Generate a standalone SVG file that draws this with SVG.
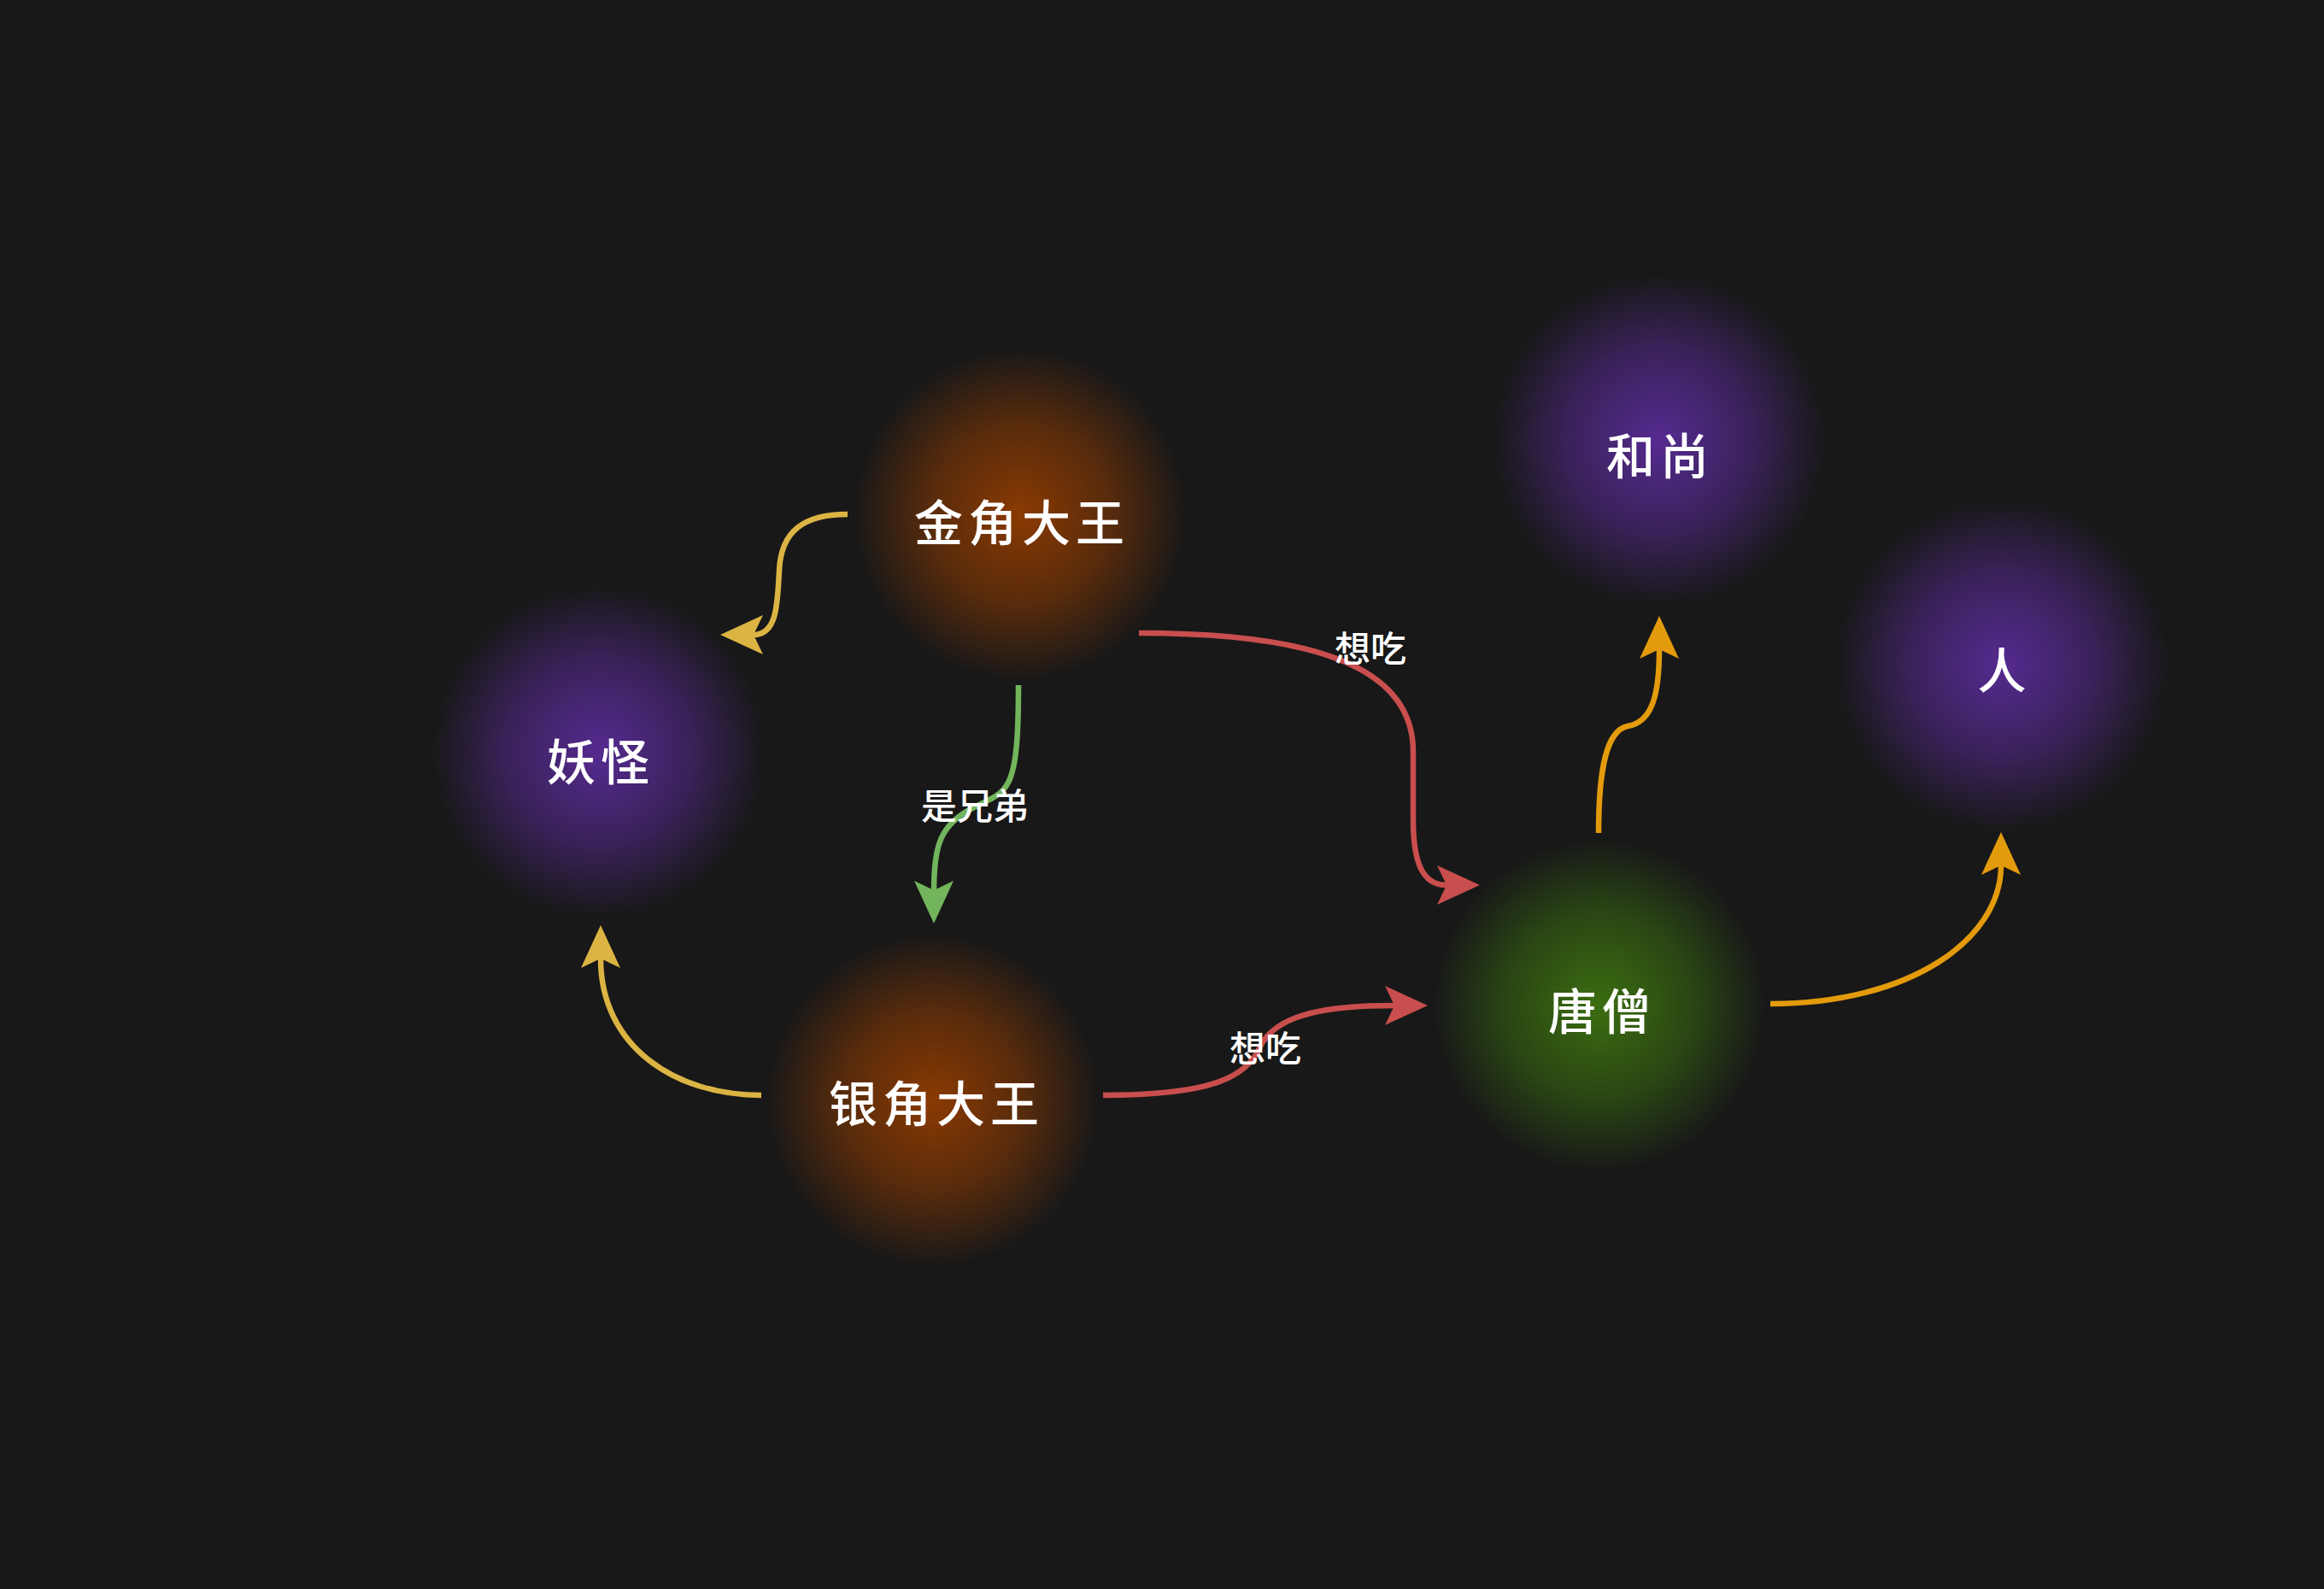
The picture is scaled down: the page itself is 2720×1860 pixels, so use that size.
<svg xmlns="http://www.w3.org/2000/svg" width="2720" height="1860" viewBox="0 0 2720 1860">
  <defs>
    <radialGradient id="gOrange">
      <stop offset="0" stop-color="#8a3a02" stop-opacity="1"/>
      <stop offset="0.55" stop-color="#8a3a02" stop-opacity="0.55"/>
      <stop offset="1" stop-color="#8a3a02" stop-opacity="0"/>
    </radialGradient>
    <radialGradient id="gPurple">
      <stop offset="0" stop-color="#552a90" stop-opacity="1"/>
      <stop offset="0.55" stop-color="#552a90" stop-opacity="0.55"/>
      <stop offset="1" stop-color="#552a90" stop-opacity="0"/>
    </radialGradient>
    <radialGradient id="gGreen">
      <stop offset="0" stop-color="#3a6d10" stop-opacity="1"/>
      <stop offset="0.55" stop-color="#3a6d10" stop-opacity="0.55"/>
      <stop offset="1" stop-color="#3a6d10" stop-opacity="0"/>
    </radialGradient>
    <marker id="aYellow" markerUnits="userSpaceOnUse" viewBox="0 0 50 46" markerWidth="50" markerHeight="46" refX="11" refY="23" orient="auto">
      <path d="M0,0 L50,23 L0,46 L11,23 z" fill="#dcb443"/>
    </marker>
    <marker id="aGreen" markerUnits="userSpaceOnUse" viewBox="0 0 50 46" markerWidth="50" markerHeight="46" refX="11" refY="23" orient="auto">
      <path d="M0,0 L50,23 L0,46 L11,23 z" fill="#72b55c"/>
    </marker>
    <marker id="aRed" markerUnits="userSpaceOnUse" viewBox="0 0 50 46" markerWidth="50" markerHeight="46" refX="11" refY="23" orient="auto">
      <path d="M0,0 L50,23 L0,46 L11,23 z" fill="#c94e4e"/>
    </marker>
    <marker id="aOrange" markerUnits="userSpaceOnUse" viewBox="0 0 50 46" markerWidth="50" markerHeight="46" refX="11" refY="23" orient="auto">
      <path d="M0,0 L50,23 L0,46 L11,23 z" fill="#e39b0c"/>
    </marker>
  </defs>
  <style>
    .node-label { font-family: "Noto Sans CJK SC", "Noto Sans", sans-serif; font-size: 57px; font-weight: 500; fill: #ffffff; text-anchor: middle; dominant-baseline: central; letter-spacing: 6px; }
    .edge-label { font-family: "Noto Sans CJK SC", "Noto Sans", sans-serif; font-size: 42px; font-weight: 500; fill: #ffffff; text-anchor: middle; dominant-baseline: central; }
    .edge { fill: none; stroke-width: 6.5; }
    .yellow { stroke: #dcb443; }
    .green { stroke: #72b55c; }
    .red { stroke: #c94e4e; }
    .orange { stroke: #e39b0c; }
  </style>
  <rect x="0" y="0" width="2720" height="1860" fill="#181818"/>

  <g id="connectors">
    <path class="edge yellow" d="M992 602 C940 602 914 622 912 668 C910 712 908 743 882 743" marker-end="url(#aYellow)"/>
    <path class="edge green" d="M1192 802 C1192 930 1180 925 1140 945 C1100 965 1093 990 1093 1042" marker-end="url(#aGreen)"/>
    <path class="edge red" d="M1333 741 C1560 741 1654 790 1654 880 L1654 960 C1654 1010 1665 1036 1693 1036" marker-end="url(#aRed)"/>
    <path class="edge red" d="M1291 1282 C1420 1282 1460 1260 1475 1225 C1495 1185 1560 1177 1632 1177" marker-end="url(#aRed)"/>
    <path class="edge yellow" d="M891 1282 C790 1282 703 1225 703 1122" marker-end="url(#aYellow)"/>
    <path class="edge orange" d="M1871 975 C1871 900 1880 855 1905 850 C1935 845 1942 810 1942 760" marker-end="url(#aOrange)"/>
    <path class="edge orange" d="M2072 1175 C2235 1175 2342 1100 2342 1013" marker-end="url(#aOrange)"/>
    <text class="edge-label" x="1604" y="756">想吃</text>
    <text class="edge-label" x="1141" y="940">是兄弟</text>
    <text class="edge-label" x="1481" y="1224">想吃</text>
  </g>

  <g id="node-jinjiao">
    <circle cx="1194" cy="602" r="195" fill="url(#gOrange)"/>
    <text class="node-label" x="1196" y="608">金角大王</text>
  </g>
  <g id="node-yaoguai">
    <circle cx="701" cy="880" r="195" fill="url(#gPurple)"/>
    <text class="node-label" x="703" y="888">妖怪</text>
  </g>
  <g id="node-yinjiao">
    <circle cx="1092" cy="1288" r="195" fill="url(#gOrange)"/>
    <text class="node-label" x="1096" y="1288">银角大王</text>
  </g>
  <g id="node-heshang">
    <circle cx="1942" cy="515" r="195" fill="url(#gPurple)"/>
    <text class="node-label" x="1943" y="530">和尚</text>
  </g>
  <g id="node-ren">
    <circle cx="2343" cy="778" r="195" fill="url(#gPurple)"/>
    <text class="node-label" x="2346" y="781">人</text>
  </g>
  <g id="node-tangseng">
    <circle cx="1872" cy="1177" r="195" fill="url(#gGreen)"/>
    <text class="node-label" x="1875" y="1180">唐僧</text>
  </g>
</svg>
